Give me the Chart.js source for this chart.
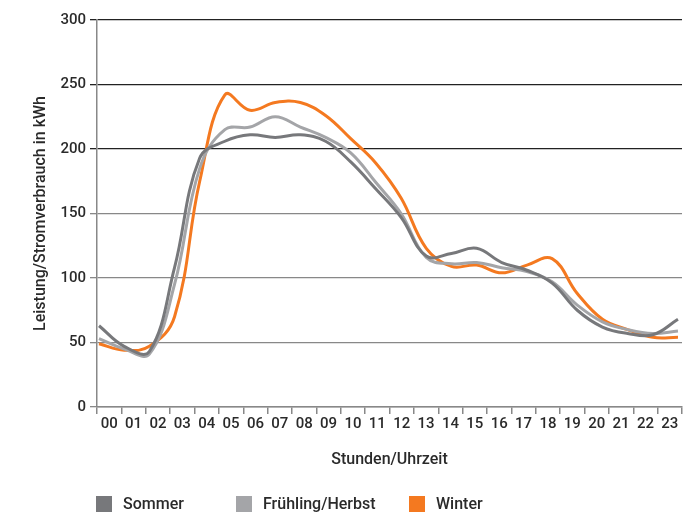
<!DOCTYPE html>
<html>
<head>
<meta charset="utf-8">
<script src="https://cdn.jsdelivr.net/npm/chart.js@4"></script>
<style>
  body { margin: 0; background: #fff; }
  #wrap { position: relative; width: 694px; height: 514px; }
  #legend { position: absolute; top: 494px; left: 0; width: 694px; height: 20px;
    font: 500 16px Roboto, sans-serif; color: #2a2a2a; }
  #legend span.box { position: absolute; top: 2px; width: 16px; height: 16px; }
  #legend span.txt { position: absolute; top: 0; line-height: 20px; }
</style>
</head>
<body>
<div id="wrap">
  <canvas id="lineChart" width="694" height="514"></canvas>
  <div id="legend"></div>
</div>
<script>
// Tageslastgang

const hours = ["00","01","02","03","04","05","06","07","08","09","10","11",
  "12","13","14","15","16","17","18","19","20","21","22","23"];

const sommer = [63, 47, 43, 108, 193, 206, 211, 209, 211, 206, 190, 169,
  147, 117, 119, 123, 112, 106, 96, 75, 62, 57, 56, 68];
const fruehlingHerbst = [53, 45, 41, 95, 185, 215, 217, 225, 217, 209, 197, 174,
  150, 116, 111, 112, 108, 105, 97, 79, 66, 60, 57, 59];
const winter = [49, 44, 47, 70, 175, 242, 230, 236, 236, 226, 208, 189,
  162, 123, 109, 110, 104, 110, 115, 88, 68, 60, 54, 54];

const seriesNames = ["Sommer", "Frühling/Herbst", "Winter"];
const seriesColors = ["#77787b", "#a4a5a8", "#f47920"];

const yTicks = [0, 50, 100, 150, 200, 250, 300];

const toPoints = (arr) => arr.map((v, i) => ({ x: i, y: v }));

const lineChart = document.getElementById("lineChart");

new Chart(lineChart, {
  type: "line",
  data: {
    labels: hours,
    datasets: [sommer, fruehlingHerbst, winter].map((arr, i) => ({
      label: seriesNames[i],
      data: toPoints(arr),
      xAxisID: "xd",
      borderColor: seriesColors[i],
      backgroundColor: seriesColors[i],
      borderWidth: 3,
      pointRadius: 0,
      tension: 0.4,
      fill: false,
    })),
  },
  options: {
    responsive: false,
    animation: false,
    layout: { padding: { top: 20, right: 12, bottom: 40, left: 0 } },
    plugins: {
      legend: { display: false },
      tooltip: { enabled: false },
    },
    scales: {
      xd: {
        type: "linear",
        display: false,
        min: -0.08,
        max: 23.16,
      },
      x: {
        type: "category",
        labels: hours,
        offset: true,
        grid: {
          offset: true,
          drawOnChartArea: false,
          color: "#888",
          tickLength: 7,
          lineWidth: 1.5,
        },
        border: { color: "#888", width: 1.5 },
        ticks: {
          color: "#2a2a2a",
          font: { family: "Roboto", size: 15, weight: "500" },
          padding: 1,
          maxRotation: 0,
          autoSkip: false,
        },
        title: {
          display: true,
          text: "Stunden/Uhrzeit",
          color: "#2a2a2a",
          font: { family: "Roboto", size: 16, weight: "500" },
          padding: { top: 11 },
        },
        afterFit: (scale) => { scale.height = 67; },
      },
      y: {
        min: 0,
        max: 300,
        afterBuildTicks: (scale) => { scale.ticks = yTicks.map((v) => ({ value: v })); },
        grid: {
          color: (ctx) => (ctx.tick && ctx.tick.value >= 200 ? "#222" : "#888"),
          lineWidth: 1.3,
          tickLength: 7,
        },
        border: { color: "#888", width: 1.5 },
        ticks: {
          color: "#2a2a2a",
          font: { family: "Roboto", size: 15, weight: "500" },
          padding: 4,
        },
        title: {
          display: true,
          text: "Leistung/Stromverbrauch in kWh",
          color: "#2a2a2a",
          font: { family: "Roboto", size: 16, weight: "500" },
          padding: { top: 31, bottom: 0 },
        },
        afterFit: (scale) => { scale.width = 97; },
      },
    },
  },
});

// Legende
const legend = document.getElementById("legend");
const legendX = [96, 236, 409];
seriesNames.forEach((name, i) => {
  const box = document.createElement("span");
  box.className = "box";
  box.style.left = legendX[i] + "px";
  box.style.background = seriesColors[i];
  legend.appendChild(box);
  const txt = document.createElement("span");
  txt.className = "txt";
  txt.style.left = legendX[i] + 27 + "px";
  txt.textContent = name;
  legend.appendChild(txt);
});
</script>
</body>
</html>
